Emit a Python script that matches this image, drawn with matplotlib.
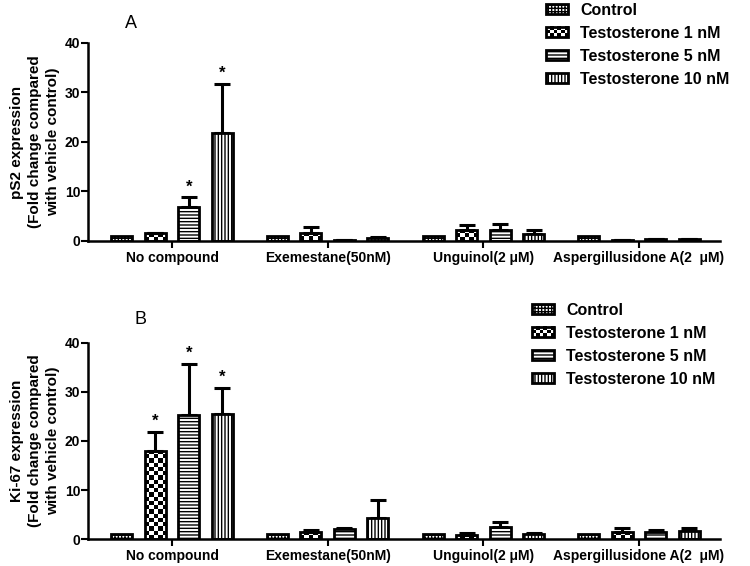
import numpy as np
import matplotlib
matplotlib.use("Agg")
import matplotlib.pyplot as plt
from matplotlib.patches import Rectangle
from matplotlib.legend_handler import HandlerBase
from matplotlib.image import BboxImage
from matplotlib.transforms import Bbox, TransformedBbox
from matplotlib.colors import Normalize

plt.rcParams['font.family'] = ['Liberation Sans', 'DejaVu Sans']
plt.rcParams['hatch.linewidth'] = 1.0

groups = ["No compound", "Exemestane(50nM)", "Unguinol(2 \u03bcM)", "Aspergillusidone A(2  \u03bcM)"]
series = ["Control", "Testosterone 1 nM", "Testosterone 5 nM", "Testosterone 10 nM"]

# Panel A: pS2
a_ctrl = [1.0, 1.0, 1.0, 1.0]
a_ctrl_up = [1.0, 1.0, 1.0, 1.0]
a_t1 = [1.6, 1.7, 2.3, 0.2]
a_t1_up = [1.7, 2.8, 3.3, 0.25]
a_t5 = [6.8, 0.2, 2.3, 0.4]
a_t5_up = [8.8, 0.25, 3.4, 0.5]
a_t10 = [21.8, 0.6, 1.5, 0.4]
a_t10_up = [31.7, 0.9, 2.3, 0.5]
a_sig = [(0, 2), (0, 3)]

# Panel B: Ki-67
b_ctrl = [1.0, 1.0, 1.0, 1.0]
b_ctrl_up = [1.0, 1.0, 1.0, 1.0]
b_t1 = [18.0, 1.5, 0.8, 1.5]
b_t1_up = [21.9, 1.9, 1.3, 2.2]
b_t5 = [25.2, 2.0, 2.5, 1.5]
b_t5_up = [35.7, 2.2, 3.6, 1.9]
b_t10 = [25.4, 4.3, 1.0, 1.6]
b_t10_up = [30.8, 8.0, 1.3, 2.3]
b_sig = [(0, 1), (0, 2), (0, 3)]

yticks = [0, 10, 20, 30, 40]

W, H = 750, 566
fig = plt.figure(figsize=(W / 100, H / 100), dpi=100)

hatches = ['+++++', None, '-----', '|||||']
LW = 2.0
BW = 0.135
STEP = 0.215


def checker(ny, nx):
    return (np.indices((ny, nx)).sum(axis=0) % 2).astype(float)


def add_checker(ax, bar, cell_px=4.2):
    x0 = bar.get_x(); w = bar.get_width(); h = bar.get_height()
    p0 = ax.transData.transform((x0, 0)); p1 = ax.transData.transform((x0 + w, h))
    nx = max(1, int(round((p1[0] - p0[0]) / cell_px)))
    ny = max(1, int(round((p1[1] - p0[1]) / cell_px)))
    im = ax.imshow(checker(ny, nx), extent=(x0, x0 + w, 0, h), aspect='auto', cmap='gray_r',
                   vmin=0, vmax=1, interpolation='nearest', zorder=1)
    im.set_clip_path(bar)


class PatternHandler(HandlerBase):
    def create_artists(self, legend, orig_handle, xdescent, ydescent, width, height, fontsize, trans):
        x0, y0 = -xdescent, -ydescent
        arts = []
        if orig_handle.get_gid() == 'checker':
            bb = TransformedBbox(Bbox.from_bounds(x0, y0, width, height), trans)
            img = BboxImage(bb, cmap='gray_r', norm=Normalize(0, 1), interpolation='nearest')
            img.set_data(checker(3, 6))
            arts.append(img)
            fc = 'none'
        else:
            fc = 'white'
        rect = Rectangle((x0, y0), width, height, facecolor=fc, edgecolor='black',
                         hatch=orig_handle.get_hatch(), lw=LW, transform=trans)
        arts.append(rect)
        return arts


def panel(top_px, bot_px, vals, ups, sig, ylabel, letter, letter_xy, leg_xy):
    ax = fig.add_axes([88 / W, 1 - bot_px / H, (720 - 88) / W, (bot_px - top_px) / H])
    ax.set_xlim(-0.54, 3.52)
    ax.set_ylim(0, 40)
    x = np.arange(len(groups))
    for k in range(4):
        xs = x + (k - 1.5) * STEP
        v = np.array(vals[k]); u = np.array(ups[k])
        fc = 'none' if k == 1 else 'white'
        bars = ax.bar(xs, v, BW, facecolor=fc, edgecolor='black', linewidth=LW,
                      hatch=hatches[k], zorder=2)
        err = np.clip(u - v, 0, None)
        mask = err > 0
        ax.errorbar(xs[mask], v[mask], yerr=[np.zeros(mask.sum()), err[mask]], fmt='none',
                    ecolor='black', elinewidth=2.2, capsize=5.5, capthick=2.2, zorder=1.5)
        if k == 1:
            for b in bars:
                add_checker(ax, b)
    for g, k in sig:
        ax.text(g + (k - 1.5) * STEP, ups[k][g] + 0.6, '*', ha='center', va='bottom',
                fontsize=12, fontweight='bold')
    ax.set_xlim(-0.54, 3.52)
    ax.set_ylim(0, 40)
    ax.set_xticks(x)
    ax.set_xticklabels(groups, fontsize=10, fontweight='bold')
    ax.set_yticks(yticks)
    ax.set_yticklabels([str(t) for t in yticks], fontsize=10, fontweight='bold')
    ax.tick_params(axis='both', width=1.5, length=5)
    ax.tick_params(axis='x', pad=2)
    ax.tick_params(axis='y', pad=0.5)
    for s in ['top', 'right']:
        ax.spines[s].set_visible(False)
    for s in ['left', 'bottom']:
        ax.spines[s].set_linewidth(1.8)
    ax.set_facecolor('none')
    fig.text(35 / W, 1 - (top_px + bot_px) / 2 / H, ylabel, rotation=90, ha='center', va='center',
             fontsize=11, fontweight='bold', linespacing=1.35, multialignment='center')
    fig.text(letter_xy[0] / W, 1 - letter_xy[1] / H, letter, ha='center', va='center', fontsize=13)

    handles = []
    for k in range(4):
        r = Rectangle((0, 0), 1, 1, facecolor='white', edgecolor='black', hatch=hatches[k], lw=LW)
        if k == 1:
            r.set_gid('checker')
        handles.append(r)
    fig.legend(handles, series, loc='upper left',
               bbox_to_anchor=(leg_xy[0] / W, 1 - leg_xy[1] / H), frameon=False,
               prop={'size': 11.5, 'weight': 'bold'}, handlelength=1.4, handleheight=0.6,
               handletextpad=0.75, labelspacing=0.5, borderpad=0, borderaxespad=0,
               handler_map={Rectangle: PatternHandler()})
    return ax


panel(43, 241, [a_ctrl, a_t1, a_t5, a_t10], [a_ctrl_up, a_t1_up, a_t5_up, a_t10_up], a_sig,
      "pS2 expression\n(Fold change compared\nwith vehicle control)", "A", (131, 24), (546, 3))
panel(342.7, 539.3, [b_ctrl, b_t1, b_t5, b_t10], [b_ctrl_up, b_t1_up, b_t5_up, b_t10_up], b_sig,
      "Ki-67 expression\n(Fold change compared\nwith vehicle control)", "B", (140, 320), (532, 303))

fig.savefig("out.png", dpi=100)
